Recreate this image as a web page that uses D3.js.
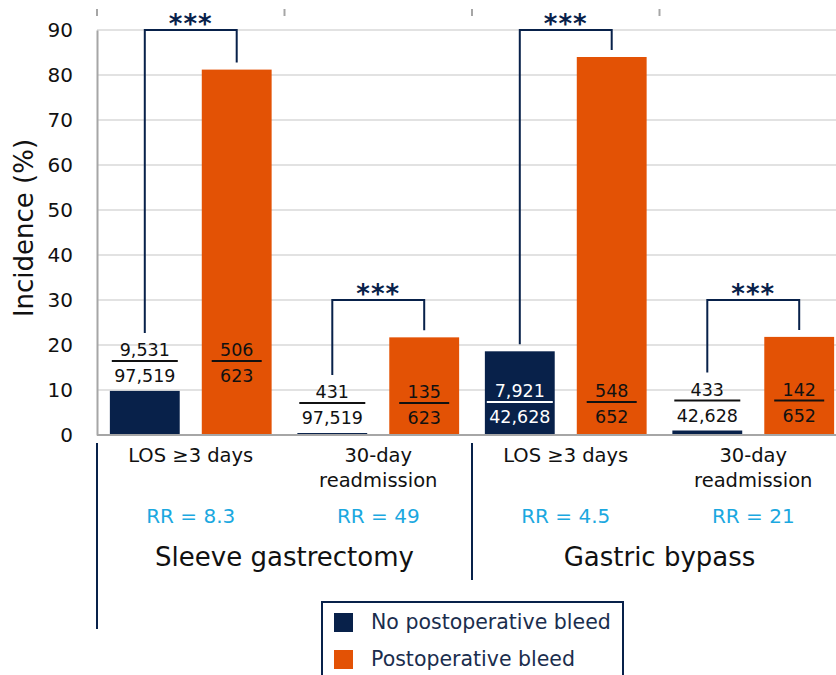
<!DOCTYPE html>
<html>
<head>
<meta charset="utf-8">
<script src="https://cdn.jsdelivr.net/npm/d3@7"></script>
<style>
  html, body { margin: 0; padding: 0; background: #fff; }
  svg { display: block; font-family: "DejaVu Sans", "Noto Sans", sans-serif; }
</style>
</head>
<body>
<div class="chart-wrapper"></div>
<script>
// outcomes x group -> 4 categories on the x axis
const categories = ['sg-los', 'sg-readm', 'gb-los', 'gb-readm']
const categoryLabels = [['LOS ≥3 days'], ['30-day', 'readmission'], ['LOS ≥3 days'], ['30-day', 'readmission']]
const series = ['No postoperative bleed', 'Postoperative bleed']

// incidence (%)
const noBleed = [9.8, 0.44, 18.6, 1.0]
const bleed = [81.2, 21.7, 84.0, 21.8]

const noBleedNum = ['9,531', '431', '7,921', '433']
const noBleedDen = ['97,519', '97,519', '42,628', '42,628']
const bleedNum = ['506', '135', '548', '142']
const bleedDen = ['623', '623', '652', '652']

const riskRatios = ['RR = 8.3', 'RR = 49', 'RR = 4.5', 'RR = 21']
const bracketLevel = [90, 30, 90, 30]
const groups = ['Sleeve gastrectomy', 'Gastric bypass']
const yTicks = [0, 10, 20, 30, 40, 50, 60, 70, 80, 90]

const navy = '#08214a'
const orange = '#e35205'
const lightBlue = '#1ba8e0'
const font = '"DejaVu Sans", "Noto Sans", sans-serif'

const width = 836
const height = 675
const margin = {left: 97, top: 30, right: -11, bottom: 240}

const svg = d3.select('.chart-wrapper')
.append('svg')
.attr('width', width)
.attr('height', height)

const xScale = d3.scaleBand()
.domain(categories)
.range([margin.left, width - margin.right])

const xSub = d3.scaleBand()
.domain(series)
.range([0, xScale.bandwidth()])
.paddingInner(0.24)
.paddingOuter(0.14)

const yScale = d3.scaleLinear()
.domain([0, 90])
.range([height - margin.bottom, margin.top])

const grid = svg.append('g')
const bars = svg.append('g')
const labels = svg.append('g')
const brackets = svg.append('g')
const axis = svg.append('g')

// gridlines
grid.selectAll('line')
.data(yTicks.filter(d => d > 0))
.enter()
.append('line')
.attr('x1', margin.left)
.attr('x2', width)
.attr('y1', d => yScale(d))
.attr('y2', d => yScale(d))
.style('stroke', '#d9d9d9')
.style('stroke-width', 1.5)

// y axis
let leftAxis = axis.append('g')
.attr('transform', `translate(${margin.left},0)`)
.call(d3.axisLeft(yScale).tickValues(yTicks).tickSize(0).tickPadding(24))

leftAxis.select('.domain').style('stroke', '#a6a6a6').style('stroke-width', 2)
leftAxis.selectAll('text')
.style('font-size', '20px')
.style('fill', '#111')
.style('font-family', font)

axis.append('text')
.attr('transform', `translate(33,${yScale(46)}) rotate(-90)`)
.attr('text-anchor', 'middle')
.style('font-size', '26px')
.style('fill', '#111')
.text('Incidence (%)')

// x axis baseline
axis.append('line')
.attr('x1', margin.left)
.attr('x2', width)
.attr('y1', yScale(0))
.attr('y2', yScale(0))
.style('stroke', '#a6a6a6')
.style('stroke-width', 2)

// little category ticks at the top
axis.selectAll('.top-tick')
.data(categories)
.enter()
.append('line')
.attr('x1', d => xScale(d))
.attr('x2', d => xScale(d))
.attr('y1', 9)
.attr('y2', 16)
.style('stroke', '#a6a6a6')
.style('stroke-width', 2)

const rows = categories.map((c, i) => ({
	cat: c,
	values: [
		{key: series[0], value: noBleed[i], num: noBleedNum[i], den: noBleedDen[i]},
		{key: series[1], value: bleed[i], num: bleedNum[i], den: bleedDen[i]}
	]
}))

// bars
const catG = bars.selectAll('g')
.data(rows)
.enter()
.append('g')
.attr('transform', d => `translate(${xScale(d.cat)},0)`)

catG.selectAll('rect')
.data(d => d.values)
.enter()
.append('rect')
.attr('x', d => xSub(d.key))
.attr('width', xSub.bandwidth())
.attr('y', d => yScale(d.value))
.attr('height', d => yScale(0) - yScale(d.value))
.style('fill', d => d.key == series[0] ? navy : orange)

// fraction labels
rows.forEach((r, i) => {

	const low = noBleed[i] < 12
	const lineY = low ? yScale(noBleed[i]) - 30 : yScale(0) - 33

	r.values.forEach((v, j) => {

		const cx = xScale(r.cat) + xSub(v.key) + xSub.bandwidth() / 2
		const col = (j == 0 && !low) ? '#fff' : '#111'
		const half = j == 0 ? 33 : 25

		labels.append('text')
		.attr('x', cx)
		.attr('y', lineY - 5)
		.attr('text-anchor', 'middle')
		.style('font-size', '17.5px')
		.style('fill', col)
		.text(v.num)

		labels.append('line')
		.attr('x1', cx - half)
		.attr('x2', cx + half)
		.attr('y1', lineY)
		.attr('y2', lineY)
		.style('stroke', col)
		.style('stroke-width', 2)

		labels.append('text')
		.attr('x', cx)
		.attr('y', lineY + 21)
		.attr('text-anchor', 'middle')
		.style('font-size', '17.5px')
		.style('fill', col)
		.text(v.den)
	})

	// significance bracket
	const xa = xScale(r.cat) + xSub(series[0]) + xSub.bandwidth() / 2
	const xb = xScale(r.cat) + xSub(series[1]) + xSub.bandwidth() / 2
	const top = yScale(bracketLevel[i])
	const ya = low ? lineY - 28 : yScale(noBleed[i]) - 7
	const yb = yScale(bleed[i]) - 7

	brackets.append('path')
	.attr('d', `M${xa},${ya}V${top}H${xb}V${yb}`)
	.style('fill', 'none')
	.style('stroke', navy)
	.style('stroke-width', 2)

	brackets.append('text')
	.attr('x', (xa + xb) / 2)
	.attr('y', top + 3)
	.attr('text-anchor', 'middle')
	.style('font-size', '26px')
	.style('font-weight', 'bold')
	.style('fill', navy)
	.style('letter-spacing', '1px')
	.text('***')

	// category labels
	const cc = xScale(r.cat) + xScale.bandwidth() / 2
	categoryLabels[i].forEach((t, k) => {
		axis.append('text')
		.attr('x', cc)
		.attr('y', 462 + k * 25)
		.attr('text-anchor', 'middle')
		.style('font-size', '19.5px')
		.style('fill', '#111')
		.text(t)
	})

	axis.append('text')
	.attr('x', cc)
	.attr('y', 523)
	.attr('text-anchor', 'middle')
	.style('font-size', '20px')
	.style('fill', lightBlue)
	.text(riskRatios[i])
})

// group labels + separators
groups.forEach((g, i) => {
	axis.append('text')
	.attr('x', xScale(categories[i * 2 + 1]))
	.attr('y', 566)
	.attr('text-anchor', 'middle')
	.style('font-size', '26px')
	.style('fill', '#111')
	.text(g)
})

axis.append('line')
.attr('x1', xScale(categories[0])).attr('x2', xScale(categories[0]))
.attr('y1', 443).attr('y2', 629)
.style('stroke', navy).style('stroke-width', 2)

axis.append('line')
.attr('x1', xScale(categories[2])).attr('x2', xScale(categories[2]))
.attr('y1', 443).attr('y2', 580)
.style('stroke', navy).style('stroke-width', 2)

// legend
const legend = svg.append('g').attr('transform', 'translate(322,602)')

legend.append('rect')
.attr('x', 0).attr('y', 0)
.attr('width', 301).attr('height', 90)
.style('fill', '#fff')
.style('stroke', navy)
.style('stroke-width', 2)

series.forEach((s, i) => {
	legend.append('rect')
	.attr('x', 12)
	.attr('y', 11 + i * 37)
	.attr('width', 19)
	.attr('height', 19)
	.style('fill', i == 0 ? navy : orange)

	legend.append('text')
	.attr('x', 49)
	.attr('y', 27 + i * 37)
	.style('font-size', '20.5px')
	.style('fill', '#1a2d4d')
	.text(s)
})
</script>
</body>
</html>
